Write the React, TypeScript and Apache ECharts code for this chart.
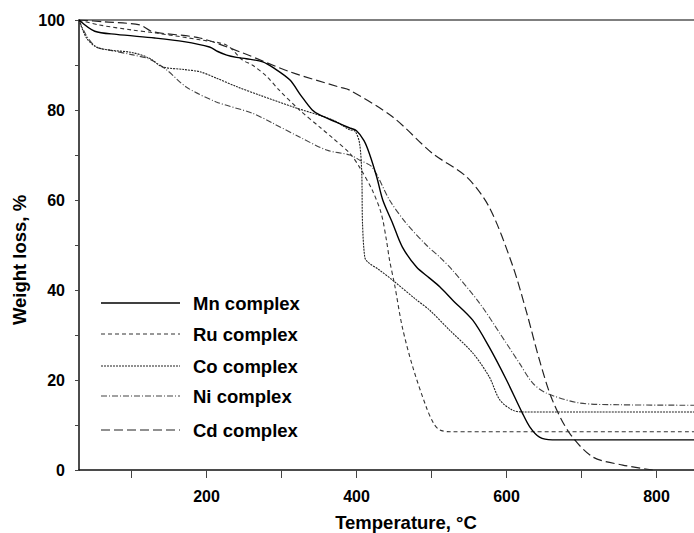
import React, { useEffect, useRef } from "react";
import * as echarts from "echarts";

const seriesNames = ["Mn complex", "Ru complex", "Co complex", "Ni complex", "Cd complex"];

const mnT = [30, 51, 80, 131, 170, 204, 215, 227, 240, 253, 275, 290, 311, 326, 341, 351, 373, 391, 400, 410, 417, 427, 435, 448, 461, 480, 497, 511, 528, 555, 577, 600, 621, 631, 644, 661, 700, 850];
const mnW = [100, 97.5, 96.8, 96.0, 95.2, 94.0, 93.0, 92.2, 91.7, 91.4, 90.7, 89.3, 86.7, 83.2, 80.0, 78.9, 77.3, 76.0, 75.4, 73.2, 70.4, 65.1, 60.0, 54.9, 49.6, 45.1, 42.7, 40.7, 37.8, 33.3, 27.3, 20.0, 12.7, 9.6, 7.3, 6.7, 6.7, 6.7];

const ruT = [30, 57, 100, 133, 191, 227, 248, 261, 280, 297, 324, 351, 368, 391, 404, 421, 433, 440, 444, 451, 461, 475, 493, 503, 511, 525, 600, 850];
const ruW = [100, 98.9, 97.8, 97.1, 95.6, 94.4, 91.1, 90.0, 87.5, 84.4, 80.0, 76.2, 73.8, 70.4, 67.3, 62.2, 57.0, 51.0, 46.7, 41.0, 31.8, 22.9, 14.0, 10.3, 8.9, 8.5, 8.5, 8.5];

const coT = [30, 40, 53, 71, 100, 124, 141, 170, 191, 213, 240, 271, 315, 368, 391, 398, 404, 407, 408, 411, 415, 430, 448, 480, 497, 524, 555, 577, 591, 608, 621, 700, 850];
const coW = [100, 96.0, 94.0, 93.3, 92.8, 91.5, 89.6, 89.0, 88.5, 87.1, 85.2, 83.3, 80.7, 77.8, 75.6, 75.3, 72.7, 66.0, 54.9, 47.3, 46.2, 44.5, 42.2, 37.8, 35.6, 31.1, 26.0, 20.7, 15.6, 13.3, 12.9, 12.9, 12.9];

const niT = [30, 40, 53, 71, 100, 124, 147, 173, 213, 261, 288, 324, 360, 391, 405, 421, 444, 466, 493, 511, 528, 564, 591, 617, 635, 653, 697, 750, 850];
const niW = [100, 96.5, 94.0, 93.3, 92.3, 91.3, 88.9, 85.1, 81.8, 79.3, 77.1, 74.0, 71.1, 70.0, 68.8, 67.3, 60.0, 54.9, 50.0, 47.3, 44.4, 37.1, 30.4, 23.8, 19.3, 17.1, 14.9, 14.5, 14.4];

const cdT = [30, 64, 111, 128, 191, 248, 311, 377, 391, 448, 501, 547, 577, 608, 627, 644, 661, 684, 715, 755, 795];
const cdW = [100, 99.6, 98.9, 97.4, 96.0, 92.7, 88.5, 85.1, 84.4, 78.5, 70.4, 65.1, 58.4, 45.5, 34.9, 24.4, 15.6, 8.2, 2.9, 1.1, 0];

const xLabelValues = [200, 400, 600, 800];
const xTickValues = [100, 200, 300, 400, 500, 600, 700, 800];

const temps = [mnT, ruT, coT, niT, cdT];
const weights = [mnW, ruW, coW, niW, cdW];

const lineStyles = [
  { color: "#000", width: 1.4, type: "solid" as any },
  { color: "#333", width: 1.1, type: [4, 3] as any },
  { color: "#222", width: 1.1, type: [2, 1] as any },
  { color: "#444", width: 1.1, type: [6, 2, 1, 2] as any },
  { color: "#222", width: 1.2, type: [9, 4] as any },
];
const legendRowY = [303, 334, 366, 396, 430];

const FONT = "'Liberation Sans', Arial, sans-serif";

export default function App() {
  const ref = useRef<HTMLDivElement>(null);
  useEffect(() => {
    if (!ref.current) return;
    const chart = echarts.init(ref.current, null, { renderer: "svg" });
    const series = seriesNames.map((name, i) => ({
      name,
      type: "line",
      xAxisIndex: 0,
      yAxisIndex: 0,
      data: temps[i].map((t, j) => [t, weights[i][j]]),
      showSymbol: false,
      symbol: "none",
      smooth: 0.3,
      lineStyle: lineStyles[i],
      z: 5 - i,
    }));
    const graphic: any[] = [];
    seriesNames.forEach((name, i) => {
      const ls = lineStyles[i];
      graphic.push({
        type: "line",
        shape: { x1: 101, y1: legendRowY[i], x2: 180, y2: legendRowY[i] },
        style: {
          stroke: ls.color,
          lineWidth: ls.width,
          lineDash: ls.type === "solid" ? null : ls.type,
        },
      });
      graphic.push({
        type: "text",
        x: 193,
        y: legendRowY[i],
        style: {
          text: name,
          font: `bold 18.5px ${FONT}`,
          fill: "#000",
          verticalAlign: "middle",
          align: "left",
        },
      });
    });
    graphic.push({
      type: "text",
      x: 406,
      y: 522,
      style: {
        text: "Temperature, °C",
        font: `bold 18.5px ${FONT}`,
        fill: "#000",
        align: "center",
        verticalAlign: "middle",
      },
    });
    graphic.push({
      type: "text",
      x: 19,
      y: 260,
      rotation: Math.PI / 2,
      style: {
        text: "Weight loss, %",
        font: `bold 18.5px ${FONT}`,
        fill: "#000",
        align: "center",
        verticalAlign: "middle",
      },
    });
    chart.setOption({
      animation: false,
      backgroundColor: "#fff",
      grid: { left: 79, right: 0, top: 20, bottom: 63 },
      xAxis: [
        {
          type: "value",
          min: 30,
          max: 850,
          position: "bottom",
          axisLine: { show: true, lineStyle: { color: "#111", width: 1.5 } },
          axisTick: {
            show: true,
            length: 8,
            inside: false,
            customValues: xTickValues,
            lineStyle: { color: "#444", width: 1 },
          },
          axisLabel: {
            customValues: xLabelValues,
            margin: 18,
            color: "#000",
            fontSize: 16,
            fontWeight: "bold",
            fontFamily: FONT,
          },
          splitLine: { show: false },
        },
        {
          type: "value",
          min: 30,
          max: 850,
          position: "top",
          axisLine: { show: true, onZero: false, lineStyle: { color: "#555", width: 1.5 } },
          axisTick: { show: false },
          axisLabel: { show: false },
          splitLine: { show: false },
        },
      ],
      yAxis: {
        type: "value",
        min: 0,
        max: 100,
        interval: 20,
        axisLine: { show: true, onZero: false, lineStyle: { color: "#111", width: 1.5 } },
        axisTick: { show: true, length: 4, lineStyle: { color: "#444" } },
        minorTick: { show: true, splitNumber: 2, length: 4, lineStyle: { color: "#444" } },
        axisLabel: {
          margin: 14,
          color: "#000",
          fontSize: 16,
          fontWeight: "bold",
          fontFamily: FONT,
        },
        splitLine: { show: false },
      },
      graphic,
      series,
    });
    return () => chart.dispose();
  }, []);
  return (
    <div
      ref={ref}
      style={{ position: "absolute", left: 0, top: 0, width: 694, height: 533 }}
    />
  );
}
